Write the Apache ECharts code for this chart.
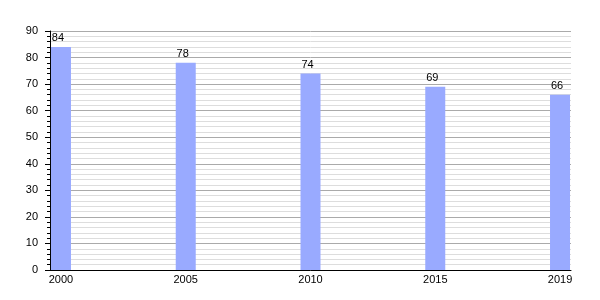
<!DOCTYPE html>
<html>
<head>
<meta charset="utf-8">
<script src="https://cdn.jsdelivr.net/npm/echarts@6/dist/echarts.min.js"></script>
<style>html,body{margin:0;padding:0;background:#fff;}#c{width:600px;height:300px;}</style>
</head>
<body>
<div id="c"></div>
<script>
const years = ['2000', '2005', '2010', '2015', '2019'];
const values = [84, 78, 74, 69, 66];
const yTicks = [0, 10, 20, 30, 40, 50, 60, 70, 80, 90];

const chart = echarts.init(document.getElementById('c'), null, {renderer: 'canvas'});
const idx = years.map((y, i) => i);
chart.setOption({
  animation: false,
  grid: {left: 50, right: 29, top: 31, bottom: 30, containLabel: false},
  xAxis: {
    type: 'value',
    min: -0.088,
    max: 4.088,
    axisLine: {show: true, onZero: false, lineStyle: {color: '#000', width: 1}},
    axisTick: {show: false},
    splitLine: {show: false},
    axisLabel: {
      customValues: idx,
      formatter: v => years[Math.round(v)],
      color: '#000',
      fontSize: 11,
      fontFamily: 'Liberation Sans, Arial, sans-serif',
      margin: 4
    }
  },
  yAxis: {
    type: 'value',
    min: yTicks[0],
    max: yTicks[yTicks.length - 1],
    interval: 10,
    axisLine: {show: true, onZero: false, lineStyle: {color: '#000', width: 1}},
    axisTick: {show: true, length: 5, lineStyle: {color: '#000'}},
    minorTick: {show: true, splitNumber: 5, length: 3, lineStyle: {color: '#000'}},
    splitLine: {show: true, lineStyle: {color: '#aaa', width: 1}},
    minorSplitLine: {show: true, lineStyle: {color: '#ddd', width: 1}},
    axisLabel: {
      color: '#000',
      fontSize: 11,
      fontFamily: 'Liberation Sans, Arial, sans-serif',
      margin: 12
    }
  },
  series: [{
    type: 'bar',
    data: values.map((v, i) => [idx[i], v]),
    barWidth: 20,
    itemStyle: {color: '#99aaff'},
    label: {
      show: true,
      position: 'top',
      distance: 3,
      offset: [-3, 0],
      color: '#000',
      fontSize: 11,
      fontFamily: 'Liberation Sans, Arial, sans-serif'
    }
  }]
});
</script>
</body>
</html>
